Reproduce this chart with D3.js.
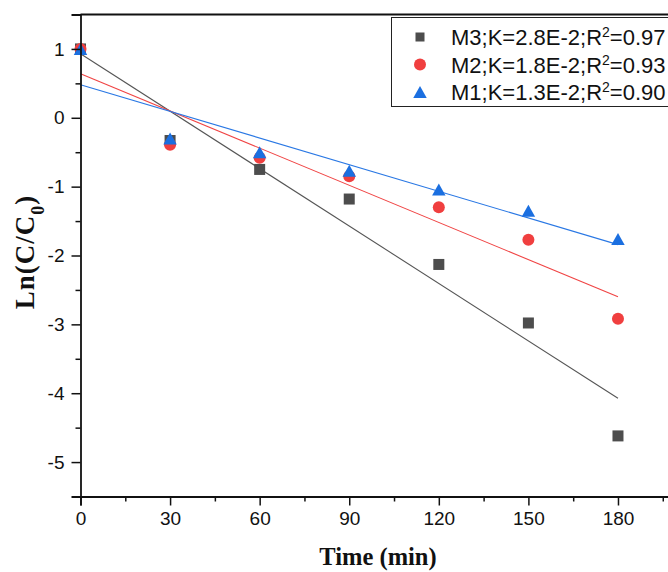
<!DOCTYPE html>
<html>
<head>
<meta charset="utf-8">
<script src="https://cdn.jsdelivr.net/npm/d3@7/dist/d3.min.js"></script>
<style>
  html, body { margin: 0; padding: 0; background: #fff; }
  svg { display: block; }
</style>
</head>
<body>
<svg id="chart" width="668" height="572"></svg>
<script>
// Sampling times (min)
const times = [0, 30, 60, 90, 120, 150, 180];

// ln(C/C0) for each material
const m3Values = [1.00, -0.33, -0.75, -1.18, -2.13, -2.98, -4.62];
const m2Values = [1.00, -0.39, -0.58, -0.85, -1.30, -1.77, -2.92];
const m1Values = [1.00, -0.30, -0.50, -0.77, -1.04, -1.35, -1.76];

// Linear fit parameters (intercept, slope) per series
const seriesNames = ["M3", "M2", "M1"];
const fitIntercepts = [0.93, 0.64, 0.48];
const fitSlopes = [-0.0278, -0.0180, -0.0129];
const kLabels = ["2.8E-2", "1.8E-2", "1.3E-2"];
const r2Labels = ["0.97", "0.93", "0.90"];

// Axis ticks
const xTickValues = [0, 30, 60, 90, 120, 150, 180];
const yTickValues = [1, 0, -1, -2, -3, -4, -5];

const colors = ["#4d4d4d", "#f03f3f", "#1b6fe0"];
const lineColors = ["#555555", "#f04444", "#2a78e4"];
const shapes = ["square", "circle", "triangle"];
const seriesValues = [m3Values, m2Values, m1Values];

const svg = d3.select("#chart");

const x = d3.scaleLinear().domain([0, 200]).range([80.5, 677.7]);
const y = d3.scaleLinear().domain([-5.5, 1.5]).range([496.5, 14.5]);

const axisColor = "#111";
const tickFont = "'Liberation Sans', Arial, sans-serif";
const titleFont = "'Liberation Serif', 'Times New Roman', serif";

// Fit lines
const fitGroup = svg.append("g");
seriesNames.forEach((name, i) => {
  const t0 = times[0], t1 = times[times.length - 1];
  fitGroup.append("line")
    .attr("x1", x(t0)).attr("y1", y(fitIntercepts[i] + fitSlopes[i] * t0))
    .attr("x2", x(t1)).attr("y2", y(fitIntercepts[i] + fitSlopes[i] * t1))
    .attr("stroke", lineColors[i])
    .attr("stroke-width", 1.1);
});

// Marker drawing helper
function drawMarker(g, shape, cx, cy, size, color) {
  if (shape === "square") {
    g.append("rect")
      .attr("x", cx - size / 2).attr("y", cy - size / 2)
      .attr("width", size).attr("height", size)
      .attr("fill", color);
  } else if (shape === "circle") {
    g.append("circle")
      .attr("cx", cx).attr("cy", cy).attr("r", size / 2)
      .attr("fill", color);
  } else {
    const w = size * 1.12, h = size;
    g.append("path")
      .attr("d", `M${cx},${cy - h / 2}L${cx + w / 2},${cy + h / 2}L${cx - w / 2},${cy + h / 2}Z`)
      .attr("fill", color);
  }
}

// Data points
const pointGroup = svg.append("g");
const plotSizes = [11, 12, 12];
seriesValues.forEach((vals, i) => {
  vals.forEach((v, j) => {
    drawMarker(pointGroup, shapes[i], x(times[j]), y(v), plotSizes[i], colors[i]);
  });
});

// Axes
const xAxis = d3.axisBottom(x).tickValues(xTickValues).tickSize(9).tickPadding(6).tickFormat(d3.format("d"));
const xMinor = d3.axisBottom(x).tickValues(d3.range(15, 200, 30)).tickSize(5).tickFormat("");
const yAxis = d3.axisLeft(y).tickValues(yTickValues).tickSize(9).tickPadding(7).tickFormat(d3.format("d"));
const yMinor = d3.axisLeft(y).tickValues(d3.range(-5.5, 1.6, 1)).tickSize(5).tickFormat("");

function styleAxis(g) {
  g.select(".domain").attr("stroke", axisColor).attr("stroke-width", 1.8);
  g.selectAll(".tick line").attr("stroke", axisColor).attr("stroke-width", 1.5);
  g.selectAll(".tick text")
    .attr("fill", "#111")
    .style("font-family", tickFont)
    .style("font-size", "19px");
}

svg.append("g").attr("transform", "translate(0,496.5)").call(xMinor).call(styleAxis)
  .select(".domain").remove();
svg.append("g").attr("transform", "translate(0,496.5)").call(xAxis).call(styleAxis);
svg.append("g").attr("transform", "translate(80.5,0)").call(yMinor).call(styleAxis)
  .select(".domain").remove();
svg.append("g").attr("transform", "translate(80.5,0)").call(yAxis).call(styleAxis);

// Replace minus sign with hyphen for tick labels
svg.selectAll(".tick text").text(function () { return d3.select(this).text().replace("\u2212", "-"); });

// Top frame
svg.append("line")
  .attr("x1", 80.5).attr("x2", 668)
  .attr("y1", 14.5).attr("y2", 14.5)
  .attr("stroke", axisColor).attr("stroke-width", 1.8);

// Axis titles
svg.append("text")
  .attr("x", 378).attr("y", 565)
  .attr("text-anchor", "middle")
  .style("font-family", titleFont)
  .style("font-weight", "bold")
  .style("font-size", "24.5px")
  .attr("fill", "#111")
  .text("Time (min)");

const yTitle = svg.append("text")
  .attr("transform", "translate(34,252) rotate(-90)")
  .attr("text-anchor", "middle")
  .style("font-family", titleFont)
  .style("font-weight", "bold")
  .style("font-size", "27px")
  .style("letter-spacing", "1px")
  .attr("fill", "#111");
yTitle.append("tspan").text("Ln(C/C");
yTitle.append("tspan").attr("baseline-shift", "sub").style("font-size", "18px").text("0");
yTitle.append("tspan").text(")");

// Legend
const legend = svg.append("g");
legend.append("rect")
  .attr("x", 391.5).attr("y", 17.5)
  .attr("width", 300).attr("height", 89)
  .attr("fill", "#fff")
  .attr("stroke", "#222").attr("stroke-width", 1);

const legendSizes = [9, 12, 12];
seriesNames.forEach((name, i) => {
  const baseY = 45 + i * 27.5;
  drawMarker(legend, shapes[i], 420, baseY - 8, legendSizes[i], colors[i]);
  const t = legend.append("text")
    .attr("x", 451).attr("y", baseY)
    .style("font-family", tickFont)
    .style("font-size", "22px")
    .attr("fill", "#111");
  t.append("tspan").text(`${name};K=${kLabels[i]};R`);
  t.append("tspan").attr("baseline-shift", "super").style("font-size", "14px").text("2");
  t.append("tspan").text(`=${r2Labels[i]}`);
});
</script>
</body>
</html>
